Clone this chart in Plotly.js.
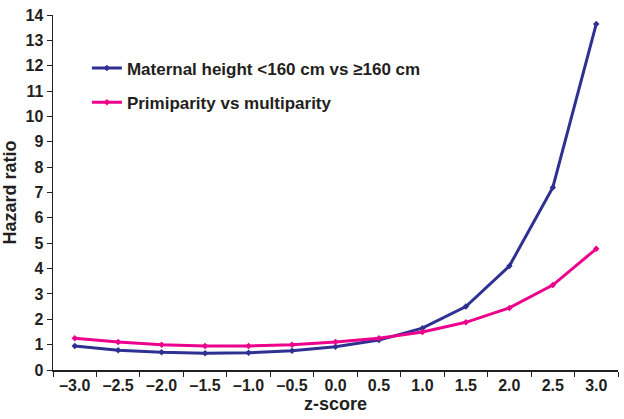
<!DOCTYPE html>
<html><head><meta charset="utf-8">
<script src="https://cdn.plot.ly/plotly-3.0.1.min.js"></script>
<style>html,body{margin:0;padding:0;background:#fff}#chart{width:624px;height:419px}</style>
</head><body><div id="chart"></div>
<script>
const zScores = ["–3.0","–2.5","–2.0","–1.5","–1.0","–0.5","0.0","0.5","1.0","1.5","2.0","2.5","3.0"];
const maternalHeight = [0.95,0.78,0.70,0.66,0.68,0.76,0.92,1.18,1.65,2.50,4.10,7.20,13.65];
const primiparity = [1.25,1.10,1.00,0.95,0.95,1.00,1.10,1.25,1.50,1.88,2.45,3.35,4.78];
const yTicks = [0,1,2,3,4,5,6,7,8,9,10,11,12,13,14];

const fontFam = "Liberation Sans, Arial, sans-serif";
const traces = [
  {x: zScores, y: maternalHeight, type: "scatter", mode: "lines+markers",
   name: "Maternal height <160 cm vs ≥160 cm", legendgroup: "a",
   line: {color: "#2E3192", width: 3}, marker: {symbol: "diamond", size: 5, color: "#2E3192"}},
  {x: zScores, y: primiparity, type: "scatter", mode: "lines+markers",
   name: "Primiparity vs multiparity", legendgroup: "b",
   line: {color: "#EC008C", width: 3}, marker: {symbol: "diamond", size: 5, color: "#EC008C"}}
];
const layout = {
  width: 624, height: 419,
  margin: {l: 53, r: 6, t: 15, b: 49},
  paper_bgcolor: "#fff", plot_bgcolor: "#fff",
  font: {family: fontFam, color: "#231F20", size: 16},
  showlegend: true,
  legend: {x: 0.06, y: 0.90, xanchor: "left", yanchor: "top", bgcolor: "rgba(0,0,0,0)",
           font: {family: fontFam, size: 17, color: "#231F20", weight: "bold"}, tracegroupgap: 9, itemwidth: 30},
  xaxis: {type: "category", range: [-0.5, 12.5], tickson: "boundaries", ticks: "outside", ticklen: 5,
          tickcolor: "#231F20", showline: true, linecolor: "#231F20", linewidth: 1.5, showgrid: false,
          zeroline: false, fixedrange: true,
          tickfont: {family: fontFam, size: 16, color: "#231F20", weight: "bold"},
          title: {text: "z-score", standoff: 2, font: {family: fontFam, size: 18, color: "#231F20", weight: "bold"}}},
  yaxis: {range: [0, 14], tickvals: yTicks, ticks: "outside", ticklen: 5, tickcolor: "#231F20",
          showline: true, linecolor: "#231F20", linewidth: 1.5, showgrid: false, zeroline: false,
          tickfont: {family: fontFam, size: 16, color: "#231F20", weight: "bold"},
          title: {text: "Hazard ratio", standoff: 10, font: {family: fontFam, size: 18, color: "#231F20", weight: "bold"}}}
};
Plotly.newPlot("chart", traces, layout, {displayModeBar: false, staticPlot: true});
</script></body></html>
